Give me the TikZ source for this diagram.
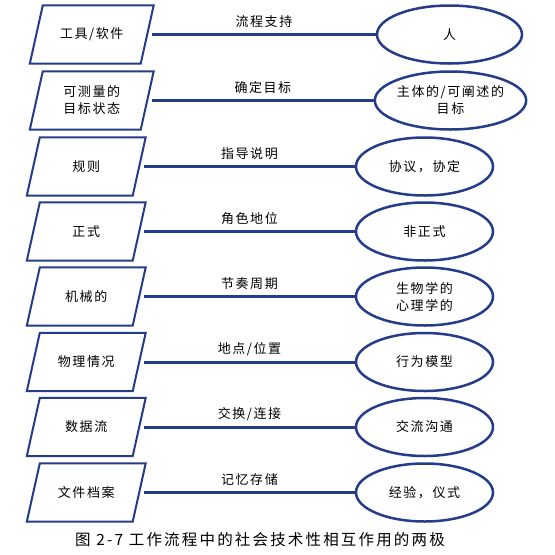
\documentclass[tikz,border=0pt]{standalone}
\usepackage{fontspec}
\usetikzlibrary{shapes.geometric}
\newfontfamily\cjk[LetterSpace=12]{Noto Sans CJK SC}
\newfontfamily\cjkcap[LetterSpace=14]{Noto Sans CJK SC}
\definecolor{navy}{RGB}{36,60,138}
\newcommand\paraedge[1]{\draw[pedge] ([xshift=6.5pt]#1.north west) -- ([xshift=6.5pt]#1.north east) -- ([xshift=-6.5pt]#1.south east) -- ([xshift=-6.5pt]#1.south west) -- cycle;}
\begin{document}
\begin{tikzpicture}[x=1pt,y=-1pt,
  txt/.style={font=\cjk\fontsize{13}{17}\selectfont, text=black, align=center},
  pbox/.style={txt, minimum width=#1, minimum height=58pt, inner sep=0pt},
  pedge/.style={draw=navy, line width=2pt, line join=miter},
  ebox/.style={txt, ellipse, draw=navy, line width=2.5pt, minimum width=#1, minimum height=58pt, inner sep=0pt},
  link/.style={draw=navy, line width=3pt},
  lab/.style={txt, midway, above=5pt, inner sep=0pt}]
\useasboundingbox[fill=white] (0,0) rectangle (555,555);

% rows 1-2 (shifted right)
\node[pbox=110.5] (p1) at (91.75,34.5) {工具/软件};
\node[pbox=110.5] (p2) at (91.75,100.5) {可测量的\\目标状态};
\node[ebox=145] (e1) at (449.5,34.5) {人};
\node[ebox=143] (e2) at (450.5,100.5) {主体的/可阐述的\\目标};

% rows 3-8
\node[pbox=105.5] (p3) at (86.25,166.5) {规则};
\node[pbox=105.5] (p4) at (86.25,231.5) {正式};
\node[pbox=105.5] (p5) at (86.25,296.5) {机械的};
\node[pbox=105.5] (p6) at (86.25,362) {物理情况};
\node[pbox=105.5] (p7) at (86.25,427) {数据流};
\node[pbox=105.5] (p8) at (86.25,492.5) {文件档案};

\node[ebox=137] (e3) at (424.5,166.5) {协议，协定};
\node[ebox=137] (e4) at (424.5,231.5) {非正式};
\node[ebox=137] (e5) at (424.5,296.5) {生物学的\\心理学的};
\node[ebox=137] (e6) at (424.5,362) {行为模型};
\node[ebox=137] (e7) at (424.5,427) {交流沟通};
\node[ebox=137] (e8) at (424.5,492.5) {经验，仪式};

\foreach \p in {p1,p2,p3,p4,p5,p6,p7,p8}{\paraedge{\p}}

\draw[link] ([xshift=5pt]p1.east) -- (e1.west) node[lab] {流程支持};
\draw[link] ([xshift=5pt]p2.east) -- (e2.west) node[lab] {确定目标};
\draw[link] ([xshift=5pt]p3.east) -- (e3.west) node[lab] {指导说明};
\draw[link] ([xshift=5pt]p4.east) -- (e4.west) node[lab] {角色地位};
\draw[link] ([xshift=5pt]p5.east) -- (e5.west) node[lab] {节奏周期};
\draw[link] ([xshift=5pt]p6.east) -- (e6.west) node[lab] {地点/位置};
\draw[link] ([xshift=5pt]p7.east) -- (e7.west) node[lab] {交换/连接};
\draw[link] ([xshift=5pt]p8.east) -- (e8.west) node[lab] {记忆存储};

\node[font=\cjkcap\fontsize{15.5}{18}\selectfont, text=black, inner sep=0pt] (cap) at (260,540) {图 2-7 工作流程中的社会技术性相互作用的两极};
\end{tikzpicture}
\end{document}
